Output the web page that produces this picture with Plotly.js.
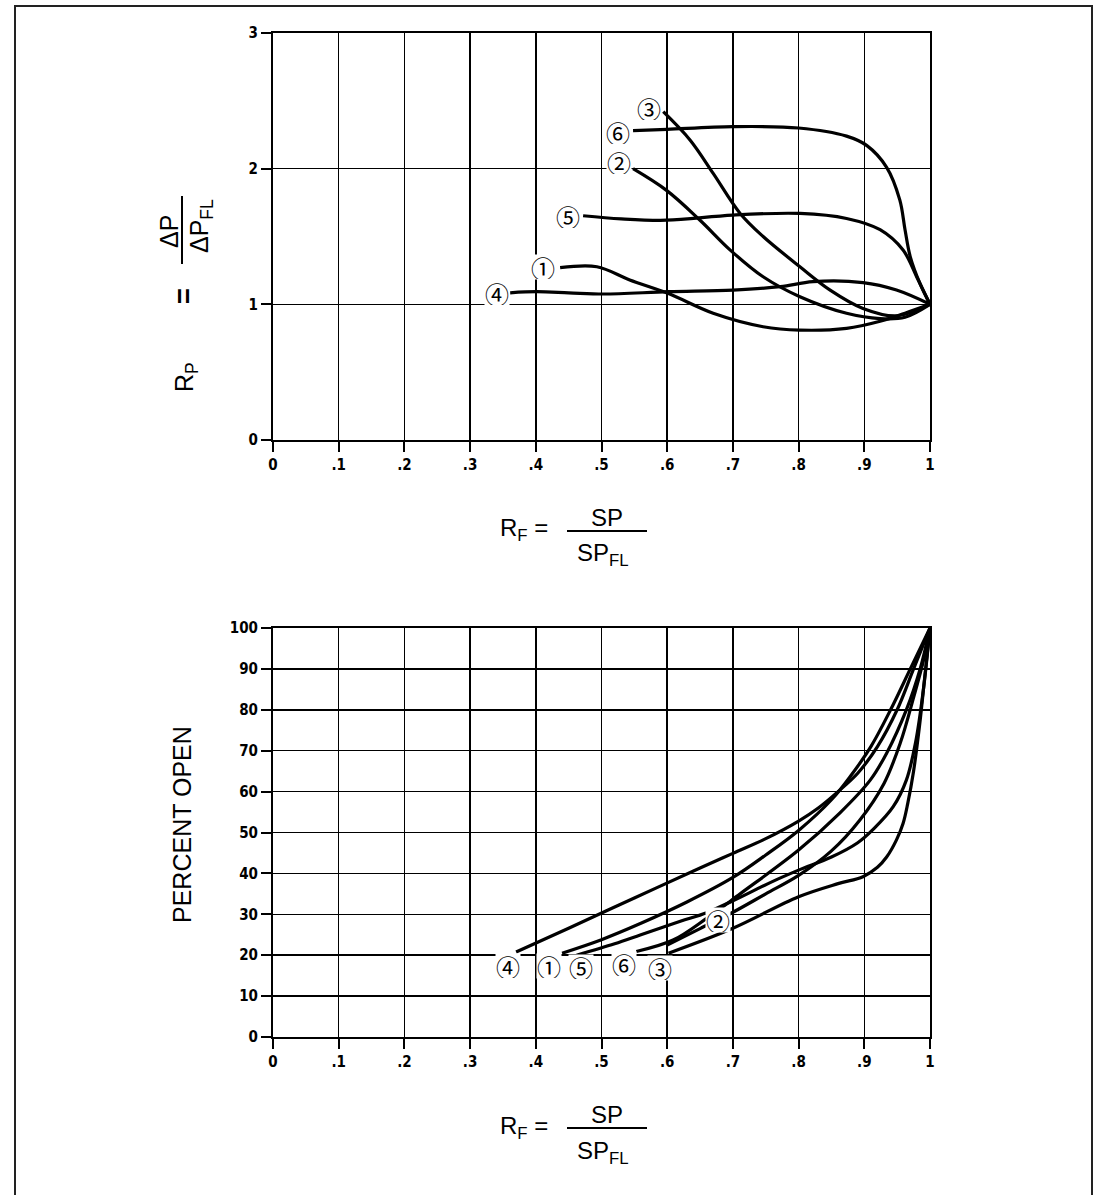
<!DOCTYPE html>
<html><head><meta charset="utf-8">
<script src="https://cdn.plot.ly/plotly-3.0.1.min.js"></script>
<style>html,body{margin:0;padding:0;background:#fff}</style>
</head><body>
<div id="chart" style="width:1097px;height:1195px"></div>
<script>
// ---------- top chart: Rp vs Rf ----------
const top1X = [0.437, 0.493, 0.543, 0.601, 0.670, 0.746, 0.802, 0.873, 0.924, 0.962, 1.0];
const top1Y = [1.27, 1.277, 1.18, 1.081, 0.934, 0.835, 0.81, 0.823, 0.875, 0.935, 1.0];
const top2X = [0.548, 0.599, 0.65, 0.696, 0.746, 0.802, 0.873, 0.924, 0.962, 1.0];
const top2Y = [2.0, 1.84, 1.62, 1.40, 1.203, 1.056, 0.934, 0.895, 0.905, 1.0];
const top3X = [0.594, 0.635, 0.670, 0.711, 0.746, 0.802, 0.848, 0.898, 0.949, 1.0];
const top3Y = [2.42, 2.21, 1.965, 1.67, 1.50, 1.277, 1.105, 0.97, 0.915, 1.0];
const top4X = [0.361, 0.401, 0.45, 0.503, 0.602, 0.70, 0.772, 0.822, 0.898, 0.949, 1.0];
const top4Y = [1.085, 1.093, 1.085, 1.076, 1.093, 1.105, 1.13, 1.167, 1.16, 1.105, 1.0];
const top5X = [0.472, 0.53, 0.599, 0.70, 0.802, 0.873, 0.924, 0.959, 0.98, 1.0];
const top5Y = [1.653, 1.63, 1.62, 1.658, 1.67, 1.633, 1.55, 1.40, 1.2, 1.0];
const top6X = [0.548, 0.60, 0.70, 0.80, 0.873, 0.904, 0.934, 0.954, 0.962, 0.970, 0.985, 1.0];
const top6Y = [2.28, 2.29, 2.31, 2.30, 2.24, 2.17, 2.01, 1.77, 1.55, 1.35, 1.15, 1.0];

// ---------- bottom chart: percent open vs Rf ----------
const bot1X = [0.44, 0.50, 0.56, 0.63, 0.70, 0.75, 0.80, 0.85, 0.88, 0.91, 0.94, 0.97, 1.0];
const bot1Y = [20.5, 23.8, 27.8, 33, 39, 44.5, 50.5, 58, 64, 71, 80, 90, 100];
const bot2X = [0.60, 0.65, 0.70, 0.75, 0.80, 0.85, 0.893, 0.93, 0.955, 0.975, 0.99, 1.0];
const bot2Y = [22.5, 26.5, 30.5, 35, 39.5, 45.5, 53, 62, 72, 83, 92, 100];
const bot3X = [0.602, 0.70, 0.80, 0.86, 0.898, 0.92, 0.934, 0.949, 0.959, 0.966, 0.975, 0.984, 0.992, 1.0];
const bot3Y = [20.5, 26.6, 34.3, 37.5, 39.2, 41.5, 44, 48.2, 52.2, 57, 65, 76, 88, 100];
const bot4X = [0.37, 0.45, 0.55, 0.65, 0.70, 0.75, 0.80, 0.83, 0.86, 0.89, 0.92, 0.95, 0.975, 1.0];
const bot4Y = [20.8, 26.6, 34, 41.3, 44.9, 48.5, 52.8, 56, 60, 64.5, 71, 80, 90, 100];
const bot5X = [0.462, 0.52, 0.56, 0.62, 0.66, 0.70, 0.76, 0.80, 0.85, 0.89, 0.915, 0.944, 0.964, 0.978, 0.99, 1.0];
const bot5Y = [20, 22.8, 25, 28.3, 30.4, 33.3, 38, 40.8, 44, 47.5, 51, 56.3, 62.8, 72, 85, 100];
const bot6X = [0.553, 0.609, 0.66, 0.711, 0.80, 0.863, 0.909, 0.934, 0.964, 0.985, 1.0];
const bot6Y = [20.9, 23.7, 29, 35, 45.7, 54.8, 62.8, 69.4, 80, 90, 100];

const xTickVals = [0, 0.1, 0.2, 0.3, 0.4, 0.5, 0.6, 0.7, 0.8, 0.9, 1];
const xTickText = ['0', '.1', '.2', '.3', '.4', '.5', '.6', '.7', '.8', '.9', '1'];
const topYTicks = [0, 1, 2, 3];
const botYTicks = [0, 10, 20, 30, 40, 50, 60, 70, 80, 90, 100];

const curveLabels = ['\u2460', '\u2461', '\u2462', '\u2463', '\u2464', '\u2465'];
const topLabelX = [0.411, 0.526, 0.573, 0.341, 0.449, 0.525];
const topLabelY = [1.277, 2.05, 2.446, 1.085, 1.651, 2.272];
const botLabelX = [0.4205, 0.677, 0.589, 0.358, 0.469, 0.534];
const botLabelY = [17.4, 28.6, 16.8, 17.4, 17.2, 17.8];

const W = 1097, H = 1195;
const px = v => v / W;
const py = v => 1 - v / H;

const topX = [top1X, top2X, top3X, top4X, top5X, top6X];
const topY = [top1Y, top2Y, top3Y, top4Y, top5Y, top6Y];
const botX = [bot1X, bot2X, bot3X, bot4X, bot5X, bot6X];
const botY = [bot1Y, bot2Y, bot3Y, bot4Y, bot5Y, bot6Y];

const lineStyle = {color: '#000', width: 3.2, shape: 'spline', smoothing: 1};
const traces = [];
for (let i = 0; i < 6; i++) {
  traces.push({x: topX[i], y: topY[i], xaxis: 'x', yaxis: 'y', mode: 'lines', line: lineStyle, hoverinfo: 'skip'});
  traces.push({x: botX[i], y: botY[i], xaxis: 'x2', yaxis: 'y2', mode: 'lines', line: lineStyle, hoverinfo: 'skip'});
}

const tickFont = {family: 'Liberation Sans Narrow, DejaVu Sans Condensed, Arial Narrow, sans-serif', size: 15, color: '#000', weight: 'bold'};
const axisBase = {
  showline: true, linecolor: '#000', linewidth: 2, mirror: true,
  showgrid: true, gridcolor: '#000', gridwidth: 1.5, zeroline: false,
  ticks: 'outside', ticklen: 10, tickwidth: 2, tickcolor: '#000',
  tickfont: tickFont, fixedrange: true
};
const xDomain = [px(273), px(930)];

const textFont = {family: 'Liberation Sans, Arial, Helvetica, sans-serif', size: 24, color: '#000'};
const circFont = {family: 'Noto Sans CJK JP, DejaVu Sans, sans-serif', size: 24, color: '#000'};

const annotations = [];
for (let i = 0; i < 6; i++) {
  annotations.push({x: topLabelX[i], y: topLabelY[i], xref: 'x', yref: 'y', text: curveLabels[i], showarrow: false, font: circFont, bgcolor: '#fff', borderpad: 0, height: 24, xanchor: 'center', yanchor: 'middle'});
  annotations.push({x: botLabelX[i], y: botLabelY[i], xref: 'x2', yref: 'y2', text: curveLabels[i], showarrow: false, font: circFont, bgcolor: '#fff', borderpad: 0, height: 24, xanchor: 'center', yanchor: 'middle'});
}
// x titles (fraction form) for both charts
[0, 597].forEach(off => {
  annotations.push({x: px(524), y: py(530 + off), xref: 'paper', yref: 'paper', text: 'R<sub>F</sub> =', showarrow: false, font: textFont, xanchor: 'center', yanchor: 'middle'});
  annotations.push({x: px(607), y: py(517 + off), xref: 'paper', yref: 'paper', text: 'SP', showarrow: false, font: textFont, xanchor: 'center', yanchor: 'middle'});
  annotations.push({x: px(603), y: py(555 + off), xref: 'paper', yref: 'paper', text: 'SP<sub>FL</sub>', showarrow: false, font: textFont, xanchor: 'center', yanchor: 'middle'});
});
// y title top (rotated)
const yFont = {family: 'Liberation Sans, Arial, Helvetica, sans-serif', size: 25, color: '#000'};
const rot = {textangle: -90, showarrow: false, xref: 'paper', yref: 'paper', xanchor: 'center', yanchor: 'middle'};
annotations.push(Object.assign({x: px(186), y: py(377), text: 'R<sub>P</sub>', font: yFont}, rot));
annotations.push(Object.assign({x: px(184), y: py(296), text: '=', font: {family: 'Liberation Sans, Arial, sans-serif', size: 27, color: '#000', weight: 'bold'}}, rot));
annotations.push(Object.assign({x: px(169), y: py(232), text: '\u0394P', font: yFont}, rot));
annotations.push(Object.assign({x: px(201), y: py(226), text: '\u0394P<sub>FL</sub>', font: yFont}, rot));
// y title bottom
annotations.push(Object.assign({x: px(182), y: py(825), text: 'PERCENT OPEN', font: {family: 'Liberation Sans, Arial, sans-serif', size: 25, color: '#000'}}, rot));

const shapes = [
  {type: 'rect', xref: 'paper', yref: 'paper', x0: px(15), x1: px(1092), y0: -0.02, y1: py(6), line: {color: '#222', width: 2}},
  {type: 'line', xref: 'paper', yref: 'paper', x0: px(567), x1: px(647), y0: py(531), y1: py(531), line: {color: '#000', width: 2}},
  {type: 'line', xref: 'paper', yref: 'paper', x0: px(567), x1: px(647), y0: py(1128), y1: py(1128), line: {color: '#000', width: 2}},
  {type: 'line', xref: 'paper', yref: 'paper', x0: px(182), x1: px(182), y0: py(196), y1: py(264), line: {color: '#000', width: 2}}
];

const layout = {
  width: W, height: H, margin: {l: 0, r: 0, t: 0, b: 0},
  paper_bgcolor: '#fff', plot_bgcolor: '#fff', showlegend: false,
  xaxis: Object.assign({}, axisBase, {domain: xDomain, range: [0, 1], tickvals: xTickVals, ticktext: xTickText, anchor: 'y'}),
  yaxis: Object.assign({}, axisBase, {domain: [py(440), py(33)], range: [0, 3], tickvals: topYTicks, anchor: 'x'}),
  xaxis2: Object.assign({}, axisBase, {domain: xDomain, range: [0, 1], tickvals: xTickVals, ticktext: xTickText, anchor: 'y2'}),
  yaxis2: Object.assign({}, axisBase, {domain: [py(1037), py(628)], range: [0, 100], tickvals: botYTicks, anchor: 'x2'}),
  annotations: annotations,
  shapes: shapes
};

Plotly.newPlot('chart', traces, layout, {staticPlot: true, displayModeBar: false});
</script>
</body></html>
